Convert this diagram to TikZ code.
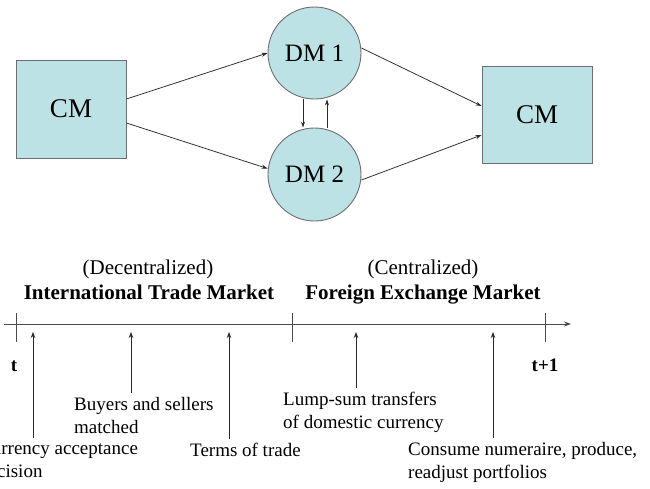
\documentclass[tikz,border=0pt]{standalone}
\usepackage{fontspec}
\setmainfont{Liberation Serif}
\usetikzlibrary{shapes.geometric,arrows.meta}
\definecolor{boxfill}{HTML}{BDE2E6}
\definecolor{boxline}{HTML}{6E6E6E}
\definecolor{ink}{HTML}{2A2A2A}
\begin{document}
\begin{tikzpicture}[x=1pt,y=-1pt,
  cmbox/.style={draw=boxline, fill=boxfill, line width=0.9pt, minimum width=110pt, minimum height=98pt, inner sep=0pt, font=\fontsize{27}{30}\selectfont},
  dmnode/.style={ellipse, draw=boxline, fill=boxfill, line width=0.9pt, minimum width=93pt, minimum height=92pt, inner sep=0pt, font=\fontsize{25}{28}\selectfont},
  flow/.style={draw=ink, line width=0.75pt, -{Stealth[length=6pt,width=4pt]}},
  heading/.style={font=\fontsize{21}{24}\selectfont\bfseries, inner sep=0pt, anchor=base},
  subhead/.style={font=\fontsize{21}{24}\selectfont, inner sep=0pt, anchor=base},
  timelabel/.style={font=\fontsize{19}{22}\selectfont\bfseries, inner sep=0pt, anchor=base},
  note/.style={font=\fontsize{19}{23}\selectfont, align=left, inner sep=0pt, outer ysep=4pt, anchor=north west},
  evarrow/.style={draw=ink, line width=0.8pt, -{Stealth[length=6pt,width=4.5pt]}},
  axisline/.style={draw=ink!85, line width=0.9pt, -{Stealth[length=7pt,width=5pt]}},
  tickline/.style={draw=ink!85, line width=0.9pt}]
\useasboundingbox (0,0) rectangle (650,488);

% upper diagram
\node[cmbox] (cmL) at (71,109) {CM};
\node[dmnode] (dm1) at (314.5,53) {DM 1};
\node[dmnode, minimum height=93pt] (dm2) at (314.5,174.5) {DM 2};
\node[cmbox, minimum height=97pt] (cmR) at (537,114.5) {CM};

\draw[flow] ([yshift=10pt]cmL.east) -- (dm1.west);
\draw[flow] ([yshift=-14pt]cmL.east) -- ([yshift=6pt]dm2.west);
\draw[flow] ([yshift=5pt]dm1.east) -- ([yshift=8.5pt]cmR.west);
\draw[flow] ([yshift=-5.5pt]dm2.east) -- ([yshift=-20.5pt]cmR.west);
\draw[flow] ([xshift=-11.5pt]dm1.south) -- ([xshift=-11.5pt]dm2.north);
\draw[flow] ([xshift=12.5pt]dm2.north) -- ([xshift=12.5pt]dm1.south);

% headings
\node[subhead] (dec) at (148,274) {(Decentralized)};
\node[heading] (itm) at (149,299) {International Trade Market};
\node[subhead] (cen) at (423,274) {(Centralized)};
\node[heading] (fxm) at (423,299) {Foreign Exchange Market};

% time axis
\coordinate (ax0) at (4,324);
\coordinate (ax1) at (571,324);
\draw[axisline] (ax0) -- (ax1);
\draw[tickline] (16,313) -- (16,342);
\draw[tickline] (292,313) -- (292,342);
\draw[tickline] (545,313) -- (545,342);
\node[timelabel] (tl) at (14,371) {t};
\node[timelabel] (tr) at (545,371) {t+1};

% events
\coordinate (e1) at (33,332);
\coordinate (e2) at (131,332);
\coordinate (e3) at (229,332);
\coordinate (e4) at (356,332);
\coordinate (e5) at (493,332);

\node[note] (l1) at (-21,438) {Currency acceptance\\decision};
\node[note] (l2) at (74,393) {Buyers and sellers\\matched};
\node[note] (l3) at (190,439) {Terms of trade};
\node[note] (l4) at (283,388) {Lump-sum transfers\\of domestic currency};
\node[note] (l5) at (408,438) {Consume numeraire, produce,\\readjust portfolios};

\draw[evarrow] (l1.north -| e1) -- (e1);
\draw[evarrow] (l2.north -| e2) -- (e2);
\draw[evarrow] (l3.north -| e3) -- (e3);
\draw[evarrow] (l4.north -| e4) -- (e4);
\draw[evarrow] (l5.north -| e5) -- (e5);
\end{tikzpicture}
\end{document}
